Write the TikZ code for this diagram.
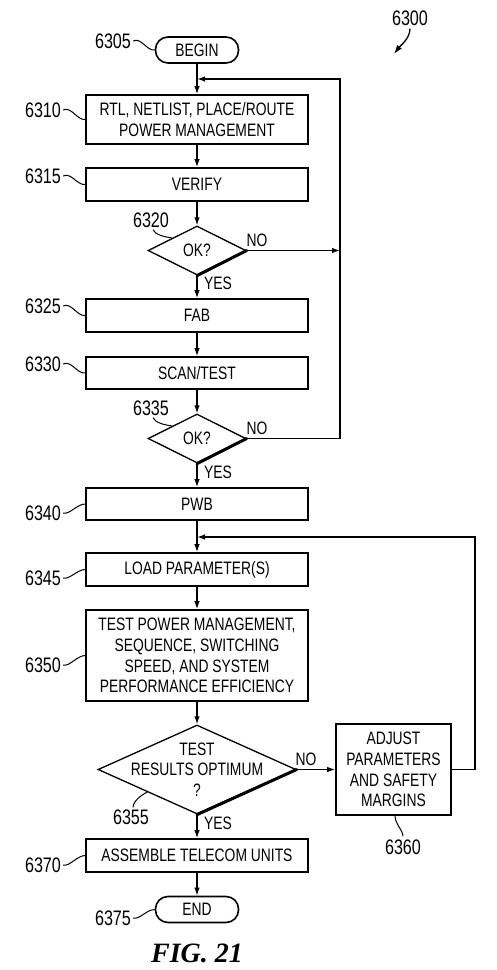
\documentclass[tikz,border=0pt]{standalone}
\usepackage{fontspec}
\setmainfont{Liberation Sans}[FakeStretch=0.77]
\newfontfamily\figfont{Liberation Serif}
\usetikzlibrary{shapes.geometric,arrows.meta}
\tikzset{
  box/.style={draw,line width=1.6pt,minimum width=222pt,inner sep=0pt,align=center,font=\fontsize{18}{20.7}\selectfont},
  term/.style={draw,line width=1.6pt,rounded corners=12.5pt,minimum width=83pt,minimum height=26pt,inner sep=0pt,font=\fontsize{18}{20.7}\selectfont},
  dec/.style={draw,diamond,line width=1.3pt,inner sep=0pt},
  conn/.style={line width=1.3pt},
  arr/.style={conn,-{Latex[length=8pt,width=5.5pt]}},
  lbl/.style={font=\fontsize{21}{24}\selectfont,inner sep=0pt},
  yn/.style={font=\fontsize{18}{20.7}\selectfont,inner sep=0pt,align=center},
  lead/.style={line width=1pt},
  shadow/.style={line width=3pt,line cap=round}
}
\begin{document}
\begin{tikzpicture}[x=1pt,y=-1pt]
\useasboundingbox (0,0) rectangle (496,970);
% nodes
\node[term] (begin) at (197,50) {BEGIN};
\node[box,minimum height=49pt] (b6310) at (197,119.5) {RTL, NETLIST, PLACE/ROUTE\\POWER MANAGEMENT};
\node[box,minimum height=33pt] (b6315) at (197,184.5) {VERIFY};
\node[dec,minimum width=98pt,minimum height=49pt,label={[yn]center:OK?}] (d6320) at (197,250.5) {};
\node[box,minimum height=33pt] (b6325) at (197,315.5) {FAB};
\node[box,minimum height=32pt] (b6330) at (197,373) {SCAN/TEST};
\node[dec,minimum width=98pt,minimum height=49pt,label={[yn]center:OK?}] (d6335) at (197,438.5) {};
\node[box,minimum height=32pt] (b6340) at (197,504) {PWB};
\node[box,minimum height=33pt] (b6345) at (197,569.5) {LOAD PARAMETER(S)};
\node[box,minimum height=91pt] (b6350) at (197,655.5) {TEST POWER MANAGEMENT,\\SEQUENCE, SWITCHING\\SPEED, AND SYSTEM\\PERFORMANCE EFFICIENCY};
\node[dec,minimum width=198pt,minimum height=89pt,label={[yn]center:TEST\\RESULTS OPTIMUM\\?}] (d6355) at (197,769.5) {};
\node[box,minimum width=115pt,minimum height=91pt] (b6360) at (393.5,769.5) {ADJUST\\PARAMETERS\\AND SAFETY\\MARGINS};
\node[box,minimum height=33pt] (b6370) at (197,855.5) {ASSEMBLE TELECOM UNITS};
\node[term] (end) at (197,909.5) {END};
% diamond shadow edges
\draw[shadow] (d6320.east) -- (d6320.south);
\draw[shadow] (d6335.east) -- (d6335.south);
\draw[shadow] (d6355.east) -- (d6355.south);
% main flow
\draw[arr] (begin) -- (b6310);
\draw[arr] (b6310) -- (b6315);
\draw[arr] (b6315) -- (d6320);
\draw[arr] (d6320) -- (b6325);
\draw[arr] (b6325) -- (b6330);
\draw[arr] (b6330) -- (d6335);
\draw[arr] (d6335) -- (b6340);
\draw[arr] (b6340) -- (b6345);
\draw[arr] (b6345) -- (b6350);
\draw[arr] (b6350) -- (d6355);
\draw[arr] (d6355) -- (b6370);
\draw[arr] (b6370) -- (end);
\draw[arr] (d6355) -- (b6360);
% loops
\coordinate (r1) at (340,79);
\coordinate (m1) at (197,79);
\draw[arr] (d6335.east) -| (r1) -- (m1);
\draw[arr] (d6320.east) -- (d6320.east -| r1);
\coordinate (r2) at (475,537);
\coordinate (m2) at (197,537);
\draw[arr] (b6360.east) -| (r2) -- (m2);
% yes / no
\node[yn] (no1) at (257,240) {NO};
\node[yn] (no2) at (257,428) {NO};
\node[yn] (no3) at (306,759) {NO};
\node[yn] (yes1) at (218,283) {YES};
\node[yn] (yes2) at (218,472) {YES};
\node[yn] (yes3) at (218,823) {YES};
% reference labels
\node[lbl] (l6300) at (410,18) {6300};
\coordinate (p6300) at (394,54);
\draw[conn,-{Latex[length=9pt,width=6pt]}] ([yshift=-3pt]l6300.south) .. controls +(0,10) and +(6,-8) .. (p6300);
\node[lbl] (l6305) at (113,41) {6305};
\draw[lead] ([xshift=2pt]l6305.east) .. controls +(8,-4) and +(-8,1) .. (begin.west);
\node[lbl] (l6310) at (43,110) {6310};
\draw[lead] ([xshift=2pt]l6310.east) .. controls +(8,-4) and +(-8,1) .. (b6310.west);
\node[lbl] (l6315) at (43,176) {6315};
\draw[lead] ([xshift=2pt]l6315.east) .. controls +(8,-4) and +(-8,1) .. (b6315.west);
\node[lbl] (l6320) at (151,220) {6320};
\draw[lead] ([xshift=2pt,yshift=-2pt]l6320.south) .. controls +(2,5) and +(-8,-1) .. (d6320.north west);
\node[lbl] (l6325) at (43,306) {6325};
\draw[lead] ([xshift=2pt]l6325.east) .. controls +(8,-4) and +(-8,1) .. (b6325.west);
\node[lbl] (l6330) at (43,364) {6330};
\draw[lead] ([xshift=2pt]l6330.east) .. controls +(8,-4) and +(-8,1) .. (b6330.west);
\node[lbl] (l6335) at (151,408) {6335};
\draw[lead] ([xshift=2pt,yshift=-2pt]l6335.south) .. controls +(2,5) and +(-8,-1) .. (d6335.north west);
\node[lbl] (l6340) at (43,513) {6340};
\draw[lead] ([xshift=2pt]l6340.east) .. controls +(6,2) and +(-8,0) .. (b6340.west);
\node[lbl] (l6345) at (43,578) {6345};
\draw[lead] ([xshift=2pt]l6345.east) .. controls +(6,2) and +(-8,0) .. (b6345.west);
\node[lbl] (l6350) at (43,665) {6350};
\draw[lead] ([xshift=2pt]l6350.east) .. controls +(6,2) and +(-8,0) .. (b6350.west);
\node[lbl] (l6355) at (131,817) {6355};
\draw[lead] ([xshift=2pt,yshift=2pt]l6355.north) .. controls +(0,-6) and +(-6,3) .. (d6355.south west);
\node[lbl] (l6360) at (403,847) {6360};
\draw[lead] ([xshift=1.5pt]b6360.south) .. controls +(0,8) and +(0,-6) .. ([yshift=3pt]l6360.north);
\node[lbl] (l6370) at (43,865) {6370};
\draw[lead] ([xshift=2pt]l6370.east) .. controls +(6,2) and +(-8,0) .. (b6370.west);
\node[lbl] (l6375) at (113,918) {6375};
\draw[lead] ([xshift=2pt]l6375.east) .. controls +(6,2) and +(-8,0) .. (end.west);
% caption
\node[font=\figfont\bfseries\itshape\fontsize{28}{30}\selectfont,inner sep=0pt] (fig) at (197,953) {FIG. 21};
\end{tikzpicture}
\end{document}
